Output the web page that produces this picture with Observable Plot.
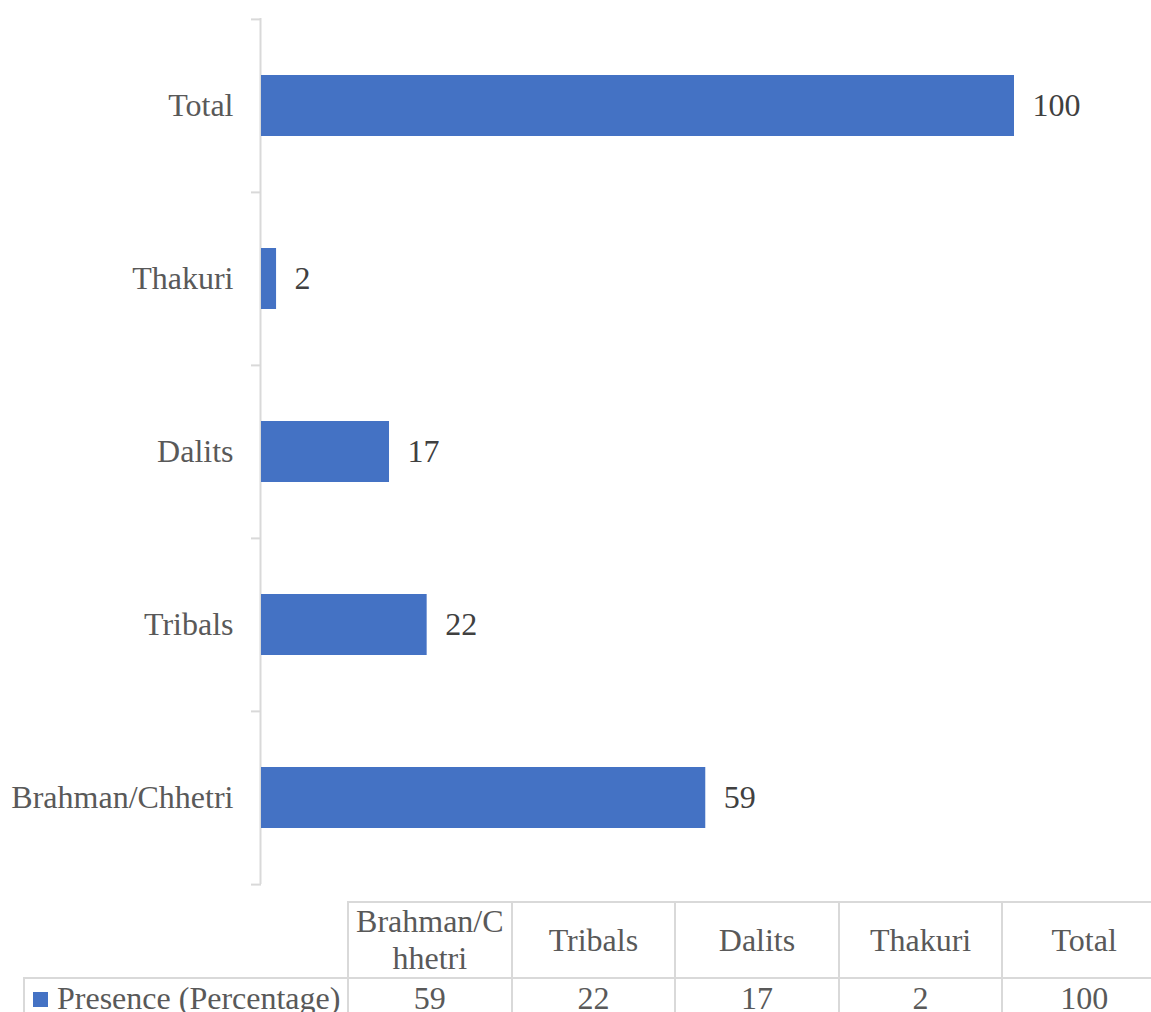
<!DOCTYPE html>
<html>
<head>
<meta charset="utf-8">
<script src="https://cdn.jsdelivr.net/npm/d3@7"></script>
<script src="https://cdn.jsdelivr.net/npm/@observablehq/plot@0.6"></script>
<style>
  body { margin: 0; padding: 0; background: #fff; font-family: 'Liberation Serif', serif; }
  #wrap { position: relative; width: 1151px; height: 1012px; overflow: hidden; }
  #chart { position: absolute; left: 0; top: 0; }
  #tbl { position: absolute; left: 23px; top: 901px; border-collapse: collapse; table-layout: fixed;
         font-family: 'Liberation Serif', serif; font-size: 32px; color: #595959; }
  #tbl td { border: 2px solid #d9d9d9; text-align: center; padding: 0 4px; line-height: 37px; }
  #tbl td.blank { border-top: none; border-left: none; }
  #tbl td.hdr { height: 70px; word-break: break-all; }
  #tbl tr.vals td { height: 46px; vertical-align: top; padding-top: 1px; }
  #tbl td.series { text-align: left; padding-left: 8px; white-space: nowrap; }
  .key { display: inline-block; width: 15px; height: 15px; background: #4472C4; margin-right: 9px; vertical-align: 2px; }
</style>
</head>
<body>
<div id="wrap">
  <div id="chart"></div>
  <table id="tbl"></table>
</div>
<script>
const categories = ["Brahman/Chhetri", "Tribals", "Dalits", "Thakuri", "Total"];
const values = [59, 22, 17, 2, 100];
const seriesName = "Presence (Percentage)";

const data = categories.map((c, i) => ({category: c, value: values[i]}));

const W = 1151, H = 895, mT = 18, mB = 11;
const step = (H - mT - mB) / categories.length;
const font = "Liberation Serif";

const chart = Plot.plot({
  width: W,
  height: H,
  marginLeft: 261,
  marginRight: 137,
  marginTop: mT,
  marginBottom: mB,
  style: {background: "#fff", fontFamily: font},
  x: {domain: [0, 100], axis: null},
  y: {domain: categories.slice().reverse(), paddingInner: 0.65, paddingOuter: 0.325, axis: null},
  marks: [
    Plot.axisY({tickSize: 0, tickPadding: 28, fontSize: 32, fontFamily: font, fill: "#595959", label: null}),
    Plot.axisY({tickSize: 10, tickPadding: 0, tickFormat: () => "", label: null, dy: -step / 2, stroke: "#d9d9d9", strokeWidth: 2}),
    Plot.axisY({ticks: [categories[0]], tickSize: 10, tickPadding: 0, tickFormat: () => "", label: null, dy: step / 2, stroke: "#d9d9d9", strokeWidth: 2}),
    Plot.ruleX([0], {stroke: "#d9d9d9", strokeWidth: 2, dx: -1}),
    Plot.barX(data, {x: "value", y: "category", fill: "#4472C4"}),
    Plot.text(data, {x: "value", y: "category", text: d => String(d.value), dx: 18, textAnchor: "start", fontSize: 32, fontFamily: font, fill: "#404040"})
  ]
});
document.getElementById("chart").appendChild(chart);

// data table below the chart
const tbl = document.getElementById("tbl");
const colgroup = document.createElement("colgroup");
const c0 = document.createElement("col"); c0.style.width = "324px"; colgroup.appendChild(c0);
categories.forEach(() => { const c = document.createElement("col"); c.style.width = "163.6px"; colgroup.appendChild(c); });
tbl.appendChild(colgroup);
tbl.style.width = (324 + 163.6 * categories.length) + "px";

const r1 = document.createElement("tr");
const blank = document.createElement("td"); blank.className = "blank"; r1.appendChild(blank);
categories.forEach(c => { const td = document.createElement("td"); td.className = "hdr"; td.textContent = c; r1.appendChild(td); });
tbl.appendChild(r1);

const r2 = document.createElement("tr"); r2.className = "vals";
const s = document.createElement("td"); s.className = "series";
const key = document.createElement("span"); key.className = "key"; s.appendChild(key);
s.appendChild(document.createTextNode(seriesName));
r2.appendChild(s);
values.forEach(v => { const td = document.createElement("td"); td.textContent = String(v); r2.appendChild(td); });
tbl.appendChild(r2);
</script>
</body>
</html>
